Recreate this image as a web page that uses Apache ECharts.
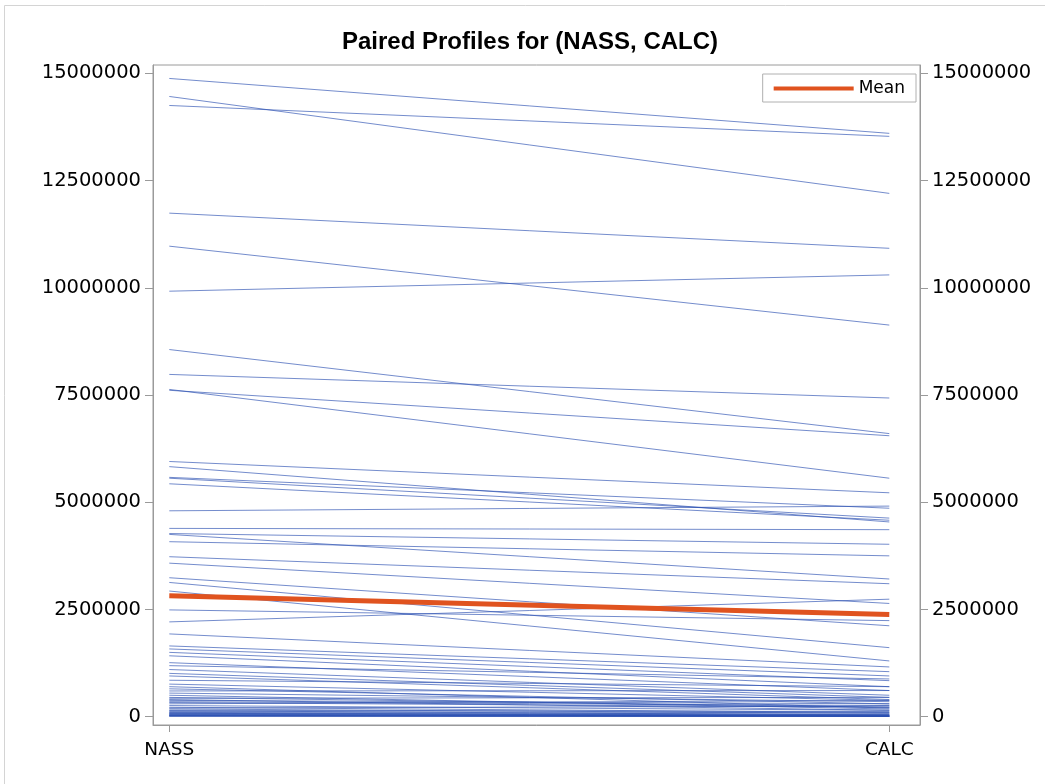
<!DOCTYPE html>
<html>
<head>
<meta charset="utf-8">
<script src="https://cdn.jsdelivr.net/npm/echarts@6/dist/echarts.min.js"></script>
<style>
html,body{margin:0;padding:0;background:#fff;}
#chart{width:1045px;height:784px;}
</style>
</head>
<body>
<div id="chart"></div>
<script>
const categories = ['NASS', 'CALC'];
const nassValues = [
  14880000,14460000,14250000,11740000,10970000,9920000,8560000,7980000,7610000,7630000,
  5950000,5830000,5580000,5560000,5430000,4800000,4390000,4270000,4250000,4080000,
  3730000,3580000,3240000,3130000,2930000,2490000,2210000,1930000,
  1650000,1580000,1500000,1420000,1260000,1190000,1010000,850000,760000,650000,
  600000,450000,430000,400000,380000,330000,300000,260000,220000,200000,
  180000,150000,140000,120000,100000,90000,80000,70000,60000,50000,
  40000,30000,25000,20000,15000,10000,950000,1100000,700000,550000,500000,350000
];
const calcValues = [
  13600000,12200000,13530000,10920000,9130000,10300000,6600000,7430000,6550000,5560000,
  5220000,4540000,4860000,4630000,4580000,4910000,4360000,4020000,3210000,3750000,
  3100000,2640000,2120000,1610000,1300000,2240000,2740000,1160000,
  1050000,950000,840000,700000,610000,880000,450000,700000,380000,300000,
  610000,220000,450000,150000,300000,220000,380000,150000,100000,250000,
  80000,120000,40000,90000,60000,30000,20000,50000,10000,30000,
  20000,10000,15000,8000,5000,5000,400000,500000,200000,350000,180000,260000
];
const meanValues = [2820000, 2380000];
const yTickValues = [0, 2500000, 5000000, 7500000, 10000000, 12500000, 15000000];
const xTickValues = [0, 1];

const chart = echarts.init(document.getElementById('chart'), null, {renderer: 'canvas'});
const FONT = 'DejaVu Sans, sans-serif';
const TITLE_FONT = 'Liberation Sans, Arial, sans-serif';

const series = [];
for (let i = 0; i < nassValues.length; i++) {
  series.push({
    type: 'line',
    name: 'profile' + i,
    data: [[0, nassValues[i]], [1, calcValues[i]]],
    symbol: 'none',
    silent: true,
    lineStyle: {width: 1, color: '#2a4fb0', opacity: 0.65},
    z: 2
  });
}
series.push({
  type: 'line',
  name: 'Mean',
  data: meanValues.map((v, i) => [i, v]),
  symbol: 'none',
  silent: true,
  lineStyle: {width: 5, color: '#E0531F'},
  itemStyle: {color: '#E0531F'},
  z: 5
});

const yAxisCommon = {
  type: 'value',
  min: -193500,
  max: 15193500,
  splitLine: {show: false},
  axisLine: {show: true, onZero: false, lineStyle: {color: '#9a9a9a', width: 1}},
  axisTick: {show: true, customValues: yTickValues, length: 8, lineStyle: {color: '#9a9a9a'}},
  axisLabel: {customValues: yTickValues, formatter: v => String(v), color: '#000', fontFamily: FONT, fontSize: 19.5, margin: 12}
};

chart.setOption({
  animation: false,
  backgroundColor: '#fff',
  graphic: [{
    type: 'rect', silent: true, z: -1,
    shape: {x: 4.5, y: 5.5, width: 1100, height: 900},
    style: {fill: 'none', stroke: '#d4d4d4', lineWidth: 1}
  }],
  title: {
    text: 'Paired Profiles for (NASS, CALC)',
    left: 525, top: 25, textAlign: 'center',
    textStyle: {fontFamily: TITLE_FONT, fontSize: 24, fontWeight: 'bold', color: '#000'}
  },
  legend: {
    data: ['Mean'],
    right: 129, top: 74,
    itemWidth: 80, itemHeight: 4,
    itemGap: 10,
    icon: 'rect',
    borderColor: '#b0b0b0', borderWidth: 1, padding: [6, 11, 5, 11],
    textStyle: {fontFamily: FONT, fontSize: 17, color: '#000'}
  },
  grid: {left: 153, right: 125, top: 65, bottom: 59, show: true, borderColor: '#9a9a9a', borderWidth: 1},
  xAxis: {
    type: 'value',
    min: -0.02264, max: 1.04264,
    splitLine: {show: false},
    axisLine: {show: true, onZero: false, lineStyle: {color: '#9a9a9a'}},
    axisTick: {show: true, customValues: xTickValues, length: 7, lineStyle: {color: '#9a9a9a'}},
    axisLabel: {customValues: xTickValues, formatter: v => categories[Math.round(v)], color: '#000', fontFamily: FONT, fontSize: 18.5, margin: 16}
  },
  yAxis: [
    Object.assign({}, yAxisCommon, {position: 'left'}),
    Object.assign({}, yAxisCommon, {position: 'right'})
  ],
  series: series
});
</script>
</body>
</html>
